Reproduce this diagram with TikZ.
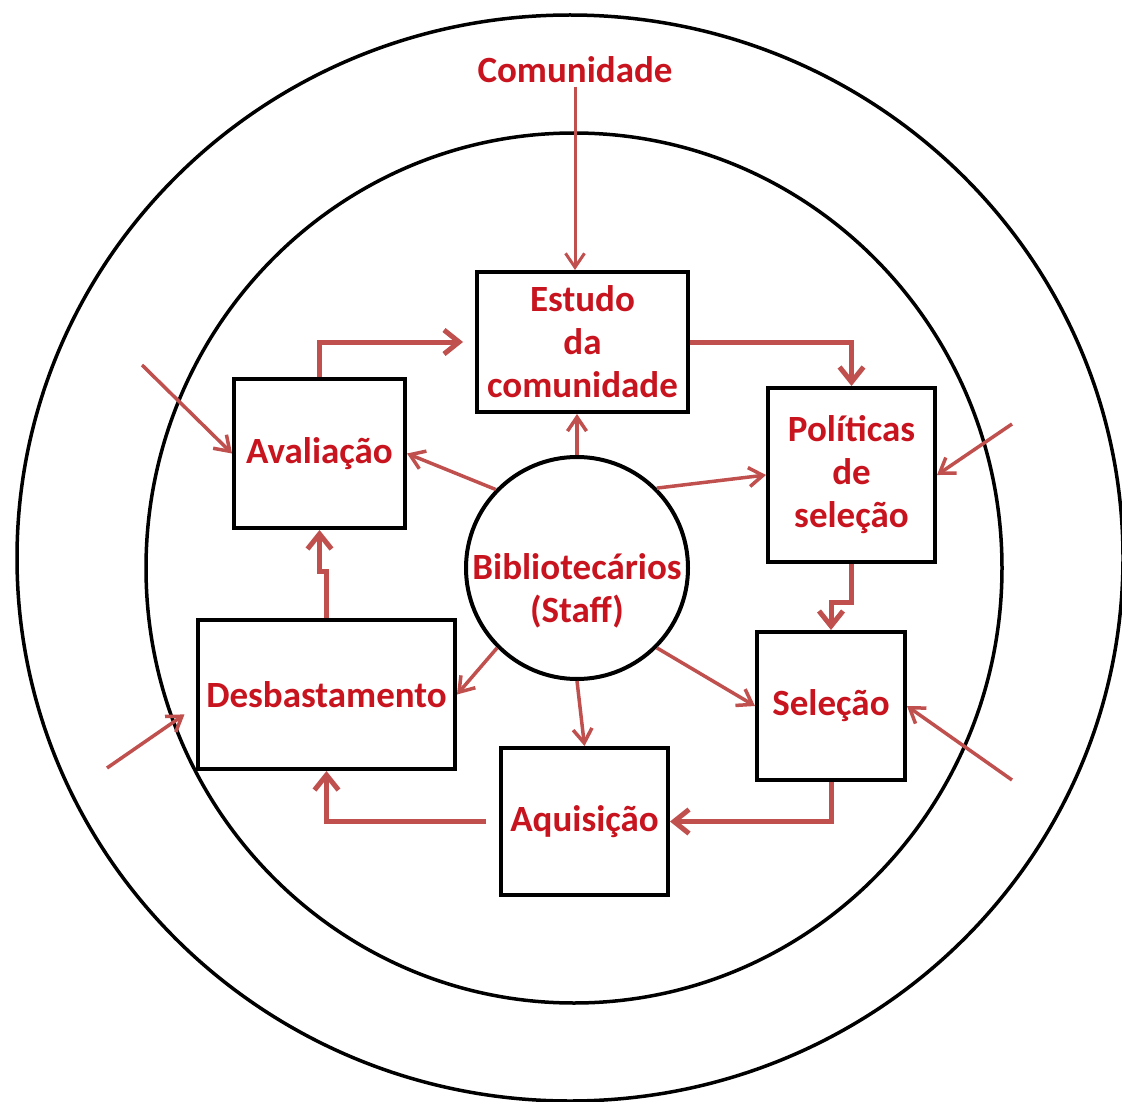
\documentclass[tikz,border=0pt]{standalone}
\usepackage{fontspec}
\setmainfont{Carlito}
\usetikzlibrary{arrows.meta,calc}
\definecolor{txtred}{RGB}{200,20,30}
\definecolor{arrred}{RGB}{192,80,77}
\begin{document}
\begin{tikzpicture}[x=1pt,y=-1pt,
  lbl/.style={font=\fontsize{37}{43}\selectfont\bfseries, text=txtred, align=center},
  box/.style={lbl, draw=black, line width=4pt, fill=white, inner sep=0pt},
  thinarrow/.style={draw=arrred, line width=3.5pt, -{Straight Barb[length=14pt,width=19pt]}},
  flowarrow/.style={draw=arrred, line width=5pt, -{Straight Barb[length=15pt,width=24pt]}},
  ring/.style={draw=black, line width=3.5pt}]
\useasboundingbox (0,0) rectangle (1122,1102);
\draw[ring] (570,558) ellipse [x radius=553, y radius=543];
\draw[ring] (574,568) ellipse [x radius=428, y radius=435];

\node[box, minimum width=211pt, minimum height=140pt] (estudo) at (582.5,342) {Estudo\\da\\comunidade};
\node[box, minimum width=171pt, minimum height=149pt] (aval) at (319.5,453.5) {Avaliação};
\node[box, minimum width=167pt, minimum height=174pt] (polit) at (851.5,475) {Políticas\\de\\seleção};
\node[box, minimum width=257pt, minimum height=149pt] (desb) at (326.5,694.5) {Desbastamento};
\node[box, minimum width=167pt, minimum height=147pt] (aquis) at (584.5,821.5) {Aquisição};
\node[box, minimum width=148pt, minimum height=148pt] (sel) at (831,706) {Seleção};
\node[draw=black, line width=4pt, circle, minimum size=222pt, inner sep=0pt, fill=white] (bib) at (577,568) {};
\node[lbl] (bibtxt) at (577,591) {Bibliotecários\\(Staff)};
\node[lbl] (comun) at (575,70) {Comunidade};

\draw[thinarrow, line width=3pt] (comun.south) -- (comun.south |- estudo.north);
\draw[thinarrow] (bib.north) -- (bib.north |- estudo.south);
\draw[thinarrow] (bib.136) -- (aval.east);
\draw[thinarrow] (bib.45) -- (polit.west);
\draw[thinarrow] (bib.225) -- (desb.east);
\draw[thinarrow] (bib.-90) -- (aquis.north);
\draw[thinarrow] (bib.-45) -- (sel.west);

\coordinate (e1) at (142,365);
\coordinate (e2) at (1012,424);
\coordinate (e3) at (1012,780);
\coordinate (e4) at (107,768);
\draw[thinarrow] (e1) -- (aval.west);
\draw[thinarrow] (e2) -- (polit.east);
\draw[thinarrow] (e3) -- (sel.east);
\draw[thinarrow, shorten >=14pt] (e4) -- ($(desb.west)+(0,12)$);

\draw[flowarrow, shorten >=12pt] (aval.north) |- (estudo.west);
\draw[flowarrow] (estudo.east) -| (polit.north);
\draw[flowarrow] (polit.south) -- ++(0,38) -| (sel.north);
\draw[flowarrow] (sel.south) |- (aquis.east);
\draw[flowarrow, shorten <=13pt] (aquis.west) -| (desb.south);
\draw[flowarrow] (desb.north) -- ++(0,-47) -| (aval.south);
\end{tikzpicture}
\end{document}
